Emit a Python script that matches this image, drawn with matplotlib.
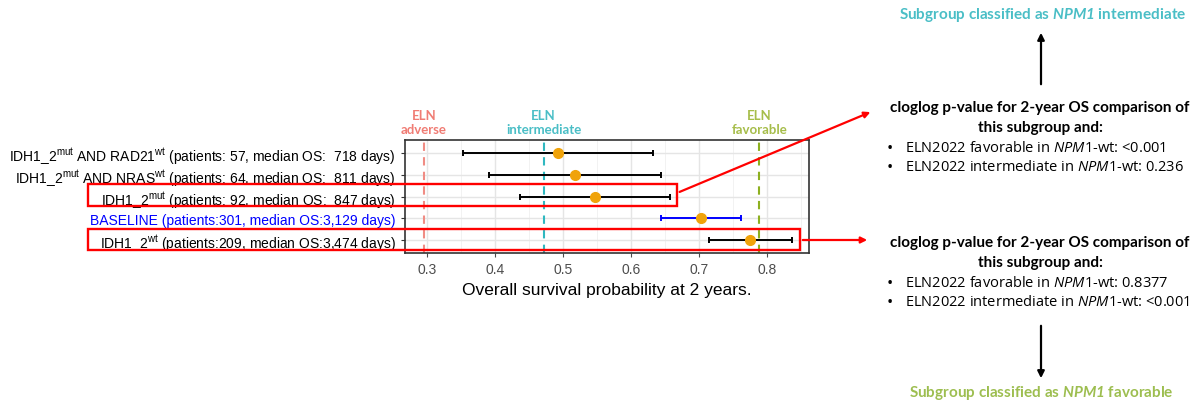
import matplotlib
matplotlib.use("Agg")
import matplotlib.pyplot as plt
from matplotlib.patches import Rectangle, FancyArrowPatch

plt.rcParams['font.family'] = ['Liberation Sans', 'DejaVu Sans']
plt.rcParams['mathtext.fontset'] = 'custom'
plt.rcParams['mathtext.sf'] = 'Liberation Sans'
plt.rcParams['mathtext.rm'] = 'Open Sans'
plt.rcParams['mathtext.it'] = 'Open Sans:italic'
plt.rcParams['mathtext.bf'] = 'Lato:bold'
plt.rcParams['mathtext.bfit'] = 'Lato:bold:italic'

# subgroups, top to bottom
labels = [
    r'IDH1_2$^{\mathsf{mut}}$ AND RAD21$^{\mathsf{wt}}$ (patients: 57, median OS:  718 days)',
    r'IDH1_2$^{\mathsf{mut}}$ AND NRAS$^{\mathsf{wt}}$ (patients: 64, median OS:  811 days)',
    r'IDH1_2$^{\mathsf{mut}}$ (patients: 92, median OS:  847 days)',
    'BASELINE (patients:301, median OS:3,129 days)',
    r'IDH1_2$^{\mathsf{wt}}$ (patients:209, median OS:3,474 days)',
]
os2y = [0.493, 0.518, 0.548, 0.703, 0.775]
ci_low = [0.353, 0.391, 0.437, 0.645, 0.715]
ci_high = [0.632, 0.644, 0.657, 0.762, 0.837]
bar_colors = ['black', 'black', 'black', '#0000FF', 'black']

eln_names = ['ELN\nadverse', 'ELN\nintermediate', 'ELN\nfavorable']
eln_values = [0.296, 0.472, 0.789]
eln_line_colors = ['#F08C84', '#2FB8C0', '#8DB020']
eln_text_colors = ['#F07C74', '#4ABEC6', '#A6BD4A']

W, H = 1201, 410
fig = plt.figure(figsize=(W / 100, H / 100), dpi=100)


def fx(x):
    return x / W


def fy(y):
    return 1 - y / H


ax = fig.add_axes([fx(405), fy(254), fx(809) - fx(405), (254 - 141) / H])
ypos = list(range(len(labels)))[::-1]

ax.set_xlim(0.268, 0.862)
ax.set_ylim(-0.6, len(labels) - 0.4)
ax.set_xticks([0.3, 0.4, 0.5, 0.6, 0.7, 0.8])
ax.set_xticks([0.35, 0.45, 0.55, 0.65, 0.75, 0.85], minor=True)
ax.set_yticks(ypos)
ax.set_yticklabels(labels, fontsize=10)
ax.tick_params(axis='x', which='major', labelsize=10, colors='#4D4D4D', length=3)
ax.tick_params(axis='y', which='major', colors='#333333', labelcolor='black', length=3)
ax.get_yticklabels()[3].set_color('#0000FF')
ax.tick_params(which='minor', length=0)
ax.grid(True, which='major', color='#E5E5E5', lw=1.0)
ax.grid(True, which='minor', axis='x', color='#F0F0F0', lw=0.6)
ax.set_axisbelow(True)
for s in ax.spines.values():
    s.set_color('#333333')
    s.set_linewidth(1.2)

for v, c in zip(eln_values, eln_line_colors):
    ax.axvline(v, color=c, ls=(0, (4, 3)), lw=1.5, zorder=1)

for y, p, lo, hi, c in zip(ypos, os2y, ci_low, ci_high, bar_colors):
    ax.errorbar(p, y, xerr=[[p - lo], [hi - p]], fmt='none', ecolor=c,
                elinewidth=1.4, capsize=2.5, capthick=1.4, zorder=3)
    ax.plot(p, y, 'o', color='#F0A30A', ms=7, zorder=4)

ax.set_xlabel('Overall survival probability at 2 years.', fontsize=12.5, labelpad=4)

for name, v, c in zip(eln_names, eln_values, eln_text_colors):
    ax.text(v, 1.04, name, transform=ax.get_xaxis_transform(), ha='center',
            va='bottom', color=c, fontsize=9.5, fontweight='bold',
            family=['Lato', 'DejaVu Sans'], linespacing=1.25)

# red highlight boxes
for top, bottom, right in [(185, 207, 677), (230, 251, 800)]:
    fig.patches.append(Rectangle((fx(88), fy(bottom)), fx(right) - fx(88),
                                 (bottom - top) / H, transform=fig.transFigure,
                                 fill=False, ec='red', lw=1.7, zorder=10))

for start, end in [((677, 194), (873, 112)), ((800, 241), (870, 241))]:
    fig.patches.append(FancyArrowPatch((fx(start[0]), fy(start[1])),
                                       (fx(end[0]), fy(end[1])),
                                       transform=fig.transFigure,
                                       arrowstyle='-|>', mutation_scale=9,
                                       color='red', lw=1.6, zorder=10))

# annotation text blocks on the right
bold_font = ['Lato', 'DejaVu Sans']
reg_font = ['Open Sans', 'DejaVu Sans']
for top, vals in [(108, ('<0.001', '0.236')), (243, ('0.8377', '<0.001'))]:
    fig.text(fx(1040), fy(top), 'cloglog p-value for 2-year OS comparison of',
             ha='center', va='center', fontsize=11, fontweight='bold', family=bold_font)
    fig.text(fx(1040), fy(top + 20), 'this subgroup and:',
             ha='center', va='center', fontsize=11, fontweight='bold', family=bold_font)
    fig.text(fx(890), fy(top + 41), '\u2022', ha='center', va='center', fontsize=12, family=reg_font)
    fig.text(fx(890), fy(top + 60), '\u2022', ha='center', va='center', fontsize=12, family=reg_font)
    fig.text(fx(905), fy(top + 41), r'ELN2022 favorable in $\mathit{NPM1}$-wt: ' + vals[0],
             ha='left', va='center', fontsize=10.5, family=reg_font)
    fig.text(fx(905), fy(top + 60), r'ELN2022 intermediate in $\mathit{NPM1}$-wt: ' + vals[1],
             ha='left', va='center', fontsize=10.5, family=reg_font)

fig.text(fx(1043), fy(15), r'Subgroup classified as $\mathbfit{NPM1}$ intermediate',
         ha='center', va='center', fontsize=11, fontweight='bold', color='#4ABEC6', family=bold_font)
fig.text(fx(1041), fy(393), r'Subgroup classified as $\mathbfit{NPM1}$ favorable',
         ha='center', va='center', fontsize=11, fontweight='bold', color='#9DBE50', family=bold_font)

for start, end in [((1041, 88), (1041, 31)), ((1041, 324), (1041, 382))]:
    fig.patches.append(FancyArrowPatch((fx(start[0]), fy(start[1])),
                                       (fx(end[0]), fy(end[1])),
                                       transform=fig.transFigure,
                                       arrowstyle='-|>', mutation_scale=10,
                                       color='black', lw=1.6, zorder=10))

fig.savefig('out.png', dpi=100)
